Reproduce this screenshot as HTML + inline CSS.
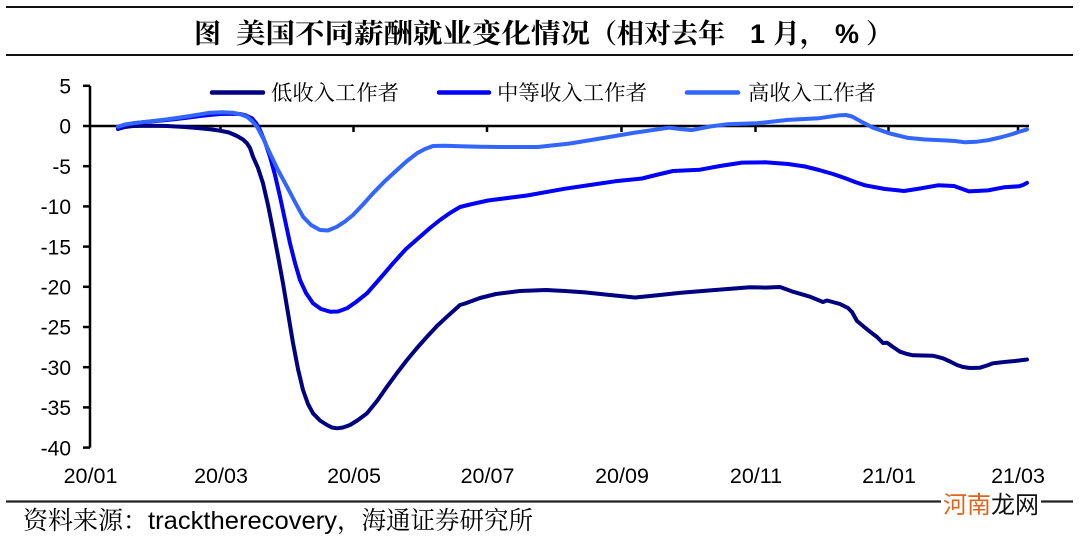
<!DOCTYPE html>
<html>
<head>
<meta charset="utf-8">
<style>
html,body{margin:0;padding:0;background:#fff;}
svg{display:block;}
.cjk{font-family:"Liberation Serif","Noto Serif CJK SC",serif;}
.lat{font-family:"Liberation Sans","Noto Sans CJK SC",sans-serif;}
</style>
</head>
<body>
<svg width="1080" height="538" viewBox="0 0 1080 538" xmlns="http://www.w3.org/2000/svg">
<rect width="1080" height="538" fill="#fff"/>
<!-- header rules -->
<line x1="6" y1="7" x2="1073" y2="7" stroke="#111" stroke-width="2"/>
<line x1="6" y1="55" x2="1073" y2="55" stroke="#111" stroke-width="2"/>
<!-- title -->
<g font-size="27" font-weight="bold" fill="#000">
<text class="cjk" x="194" y="43">图</text>
<text class="cjk" x="236" y="43" textLength="354" lengthAdjust="spacingAndGlyphs">美国不同薪酬就业变化情况</text>
<text class="cjk" x="590" y="43">（相对去年</text>
<text class="lat" x="750" y="43">1</text>
<text class="cjk" x="773" y="43">月，</text>
<text class="lat" x="835" y="43">%</text>
<text class="cjk" x="866" y="43">）</text>
</g>

<!-- legend -->
<g stroke-width="4.5" stroke-linecap="round">
<line x1="212" y1="92.5" x2="263" y2="92.5" stroke="#000080"/>
<line x1="439" y1="92.5" x2="489" y2="92.5" stroke="#0000ff"/>
<line x1="687" y1="92.5" x2="738" y2="92.5" stroke="#3366ff"/>
</g>
<g class="cjk" font-size="21" fill="#000">
<text x="271" y="100" textLength="128" lengthAdjust="spacingAndGlyphs">低收入工作者</text>
<text x="497" y="100" textLength="150" lengthAdjust="spacingAndGlyphs">中等收入工作者</text>
<text x="748" y="100" textLength="128" lengthAdjust="spacingAndGlyphs">高收入工作者</text>
</g>

<!-- axes -->
<g stroke="#000" stroke-width="2.5" fill="none">
<line x1="90" y1="85.8" x2="90" y2="447.6"/>
<line x1="89" y1="126" x2="1029" y2="126"/>
<!-- y ticks -->
<line x1="83" y1="85.8" x2="90" y2="85.8"/>
<line x1="83" y1="126" x2="90" y2="126"/>
<line x1="83" y1="166.2" x2="90" y2="166.2"/>
<line x1="83" y1="206.4" x2="90" y2="206.4"/>
<line x1="83" y1="246.6" x2="90" y2="246.6"/>
<line x1="83" y1="286.8" x2="90" y2="286.8"/>
<line x1="83" y1="327" x2="90" y2="327"/>
<line x1="83" y1="367.2" x2="90" y2="367.2"/>
<line x1="83" y1="407.4" x2="90" y2="407.4"/>
<line x1="83" y1="447.6" x2="90" y2="447.6"/>
<!-- x ticks -->
<line x1="220.5" y1="126" x2="220.5" y2="132"/>
<line x1="353.5" y1="126" x2="353.5" y2="132"/>
<line x1="487" y1="126" x2="487" y2="132"/>
<line x1="621.5" y1="126" x2="621.5" y2="132"/>
<line x1="755.5" y1="126" x2="755.5" y2="132"/>
<line x1="888.5" y1="126" x2="888.5" y2="132"/>
<line x1="1018" y1="126" x2="1018" y2="132"/>
</g>

<!-- y labels -->
<g class="lat" font-size="21" fill="#000" text-anchor="end">
<text x="71" y="93.5">5</text>
<text x="71" y="133.7">0</text>
<text x="71" y="173.9">-5</text>
<text x="71" y="214.1">-10</text>
<text x="71" y="254.3">-15</text>
<text x="71" y="294.5">-20</text>
<text x="71" y="334.7">-25</text>
<text x="71" y="374.9">-30</text>
<text x="71" y="415.1">-35</text>
<text x="71" y="455.3">-40</text>
</g>
<!-- x labels -->
<g class="lat" font-size="21.5" fill="#000" text-anchor="middle">
<text x="90.5" y="483">20/01</text>
<text x="221" y="483">20/03</text>
<text x="354" y="483">20/05</text>
<text x="487.5" y="483">20/07</text>
<text x="622" y="483">20/09</text>
<text x="756" y="483">20/11</text>
<text x="889" y="483">21/01</text>
<text x="1018" y="483">21/03</text>
</g>

<!-- series -->
<g fill="none" stroke-width="4" stroke-linejoin="round" stroke-linecap="round">
<polyline stroke="#000080" points="118,129 125,127 133,126 150,125.8 167,126 185,127 200,128.3 212,129.5 220,130.7 229,132.5 237,136 243,139.5 247,143.3 250,148 253,156.7 258,168 263,183.3 268,205 273,230 278,256 283,283.3 288,313 293,343 298,369 303,390 308,404 313,413.3 320,420.5 327,425 332,427.5 337,428.3 343,427.5 350,425 358,420 367,413.3 377,401 387,386.7 397,373 407,360 417,348 427,336.7 437,326 447,316.7 460,305 465,303.5 480,298 496,294 520,291 546,290 565,291 585,292.4 610,295 635,297.5 655,295.5 681,292.7 715,290 750,287.2 765,287.6 780,287 793,291.7 810,296.7 823,302 827,300.5 840,304 848,308 852,312 857,321 863,326 870,331.7 877,337 883,343 887,342.7 893,347 900,351.7 907,354 913,355.3 923,355.5 933,355.7 943,358.3 950,361.5 957,365 963,367 970,368 980,367.7 987,365.5 993,363.3 1000,362.5 1007,361.7 1015,361 1023,360 1027,359.5"/>
<polyline stroke="#0000ff" points="118,128.3 125,125.5 133,123.3 150,121.5 167,120 185,118 200,116 212,114.8 220,114 232,113.7 240,114 246,115.5 252,118.3 256,123 260,130 265,142 270,156.7 275,175 280,196.7 285,220 290,243.3 295,263 300,280 306,293 313,303.3 321,309 330,311.7 338,311.5 347,308.3 356,302 367,293.3 380,278.5 393,263.3 406,249 420,236.7 430,228 440,220 450,213 460,207 470,204.5 488,200.5 527,195.5 565,188.7 590,185 615,181.3 642,178.5 658,174.5 673,171 700,169.7 720,166 742,162.6 765,162.3 788,164 805,166.5 819,170 833,174 846,178.5 855,182 865,185.3 885,189 904,191 920,188.5 938,185.3 954,186 969,191.4 988,190.4 1004,187.3 1019,186.3 1023,185 1027,182.9"/>
<polyline stroke="#3366ff" points="118,126.7 125,124.5 133,123.3 150,121.3 167,119.3 180,117.5 190,116 200,114.3 210,112.7 222,112.3 233,112.7 241,114.5 247,116.7 252,121 257,126.7 263,138 270,153.3 278,170 287,186.7 295,202 303,216.7 311,225 320,230 328,230.5 337,226.7 345,221.5 353,215 363,204.5 373,193.3 385,181 397,170 407,161 417,153.3 425,149 433,146 445,145.8 460,146.3 480,146.8 500,147 538,147 570,143.5 604,137.9 636,132.5 669,127.7 680,129 692,130.1 710,126.5 727,124.3 757,123.3 788,119.9 819,118.2 840,115.2 846,115 852,116.5 862,122 873,127.7 890,133.5 908,137.9 925,139.5 942,140.2 955,141 965,142.3 977,141.7 988,140.2 1000,137.5 1011,134.5 1020,131.5 1027,129.4"/>
</g>

<!-- footer -->
<line x1="6" y1="501.5" x2="1073" y2="501.5" stroke="#222" stroke-width="2.2"/>
<rect x="941" y="494" width="100" height="16" fill="#fff"/>
<g font-size="24" style="font-family:'Noto Sans CJK SC',sans-serif">
<text x="943" y="513" fill="#e0641c">河南</text>
<text x="991" y="513" fill="#111">龙网</text>
</g>
<g font-size="25" fill="#000">
<text class="cjk" x="23" y="529" textLength="125" lengthAdjust="spacingAndGlyphs">资料来源：</text>
<text class="lat" x="148" y="529" textLength="189" lengthAdjust="spacingAndGlyphs">tracktherecovery</text>
<text class="cjk" x="337" y="529" textLength="196" lengthAdjust="spacingAndGlyphs">，海通证券研究所</text>
</g>
</svg>
</body>
</html>
